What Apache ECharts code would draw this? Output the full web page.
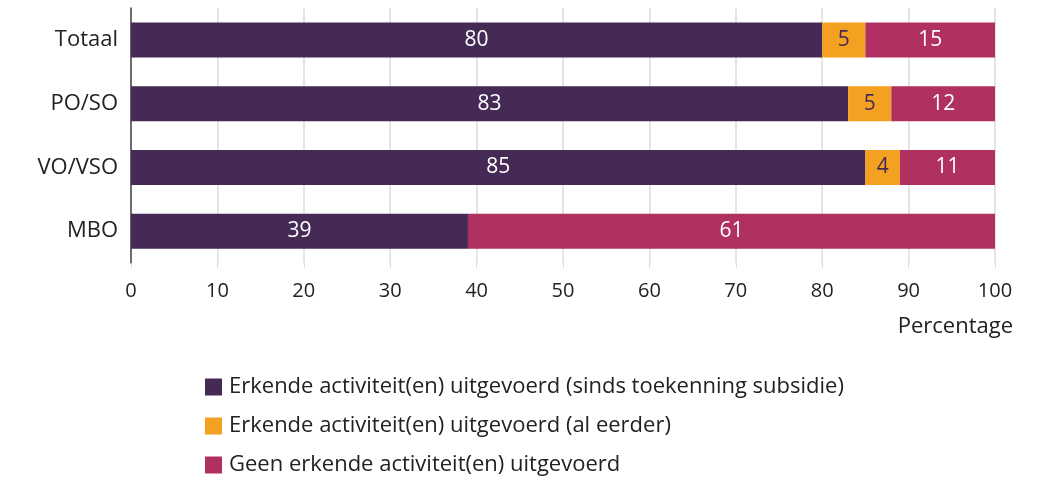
<!DOCTYPE html>
<html>
<head>
<meta charset="utf-8">
<script src="https://cdn.jsdelivr.net/npm/echarts@6/dist/echarts.min.js"></script>
<style>
  html, body { margin: 0; padding: 0; background: #fff; }
  #chart { width: 1042px; height: 479px; }
</style>
</head>
<body>
<div id="chart"></div>
<script>
const categories = ["Totaal", "PO/SO", "VO/VSO", "MBO"];
const sindsToekenning = [80, 83, 85, 39];
const alEerder = [5, 5, 4, null];
const geenActiviteit = [15, 12, 11, 61];
const seriesNames = [
  "Erkende activiteit(en) uitgevoerd (sinds toekenning subsidie)",
  "Erkende activiteit(en) uitgevoerd (al eerder)",
  "Geen erkende activiteit(en) uitgevoerd"
];
const colors = ["#452a56", "#f4a020", "#b03062"];
const font = "'Open Sans', 'Noto Sans', sans-serif";

const chart = echarts.init(document.getElementById("chart"));

function barSeries(name, data, color, labelColor) {
  return {
    name: name,
    type: "bar",
    stack: "total",
    data: data,
    barWidth: 35,
    itemStyle: { color: color },
    label: {
      show: true,
      position: "inside",
      color: labelColor,
      fontFamily: font,
      fontSize: 21
    }
  };
}

chart.setOption({
  animation: false,
  textStyle: { fontFamily: font },
  grid: { left: 131, right: 47, top: 8, height: 255 },
  legend: {
    orient: "vertical",
    left: 200,
    top: 369,
    height: 120,
    itemWidth: 17,
    itemHeight: 17,
    itemGap: 13,
    icon: "rect",
    textStyle: { fontSize: 22, lineHeight: 26, color: "#222", fontFamily: font, padding: [0, 0, 0, 2] },
    data: seriesNames
  },
  xAxis: {
    type: "value",
    min: 0,
    max: 100,
    interval: 10,
    axisLine: { show: false },
    axisTick: { show: true, length: 5, lineStyle: { color: "#dcdcdc" } },
    axisLabel: { color: "#222", fontSize: 20, margin: 18, fontFamily: font },
    splitLine: { lineStyle: { color: "#dcdcdc", width: 1.5 } }
  },
  yAxis: {
    type: "category",
    inverse: true,
    data: categories,
    axisLine: { show: true, lineStyle: { color: "#444", width: 1.5 } },
    axisTick: { show: false },
    axisLabel: { color: "#222", fontSize: 22, margin: 13, fontFamily: font }
  },
  graphic: [{
    type: "text",
    right: 29,
    top: 316,
    style: { text: "Percentage", fontSize: 22, fill: "#222", fontFamily: font }
  }],
  series: [
    barSeries(seriesNames[0], sindsToekenning, colors[0], "#fff"),
    barSeries(seriesNames[1], alEerder, colors[1], "#452a56"),
    barSeries(seriesNames[2], geenActiviteit, colors[2], "#fff")
  ]
});
</script>
</body>
</html>
